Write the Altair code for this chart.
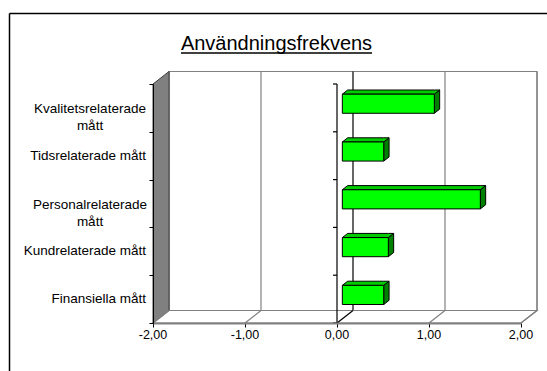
import altair as alt
import pandas as pd

# Chart content
CATEGORIES = [
    "Finansiella mått",
    "Kundrelaterade mått",
    "Personalrelaterade\nmått",
    "Tidsrelaterade mått",
    "Kvalitetsrelaterade\nmått",
]
VALUES = [0.45, 0.50, 1.50, 0.45, 1.00]
TICK_VALUES = [-2, -1, 0, 1, 2]
TICK_LABELS = ["-2,00", "-1,00", "0,00", "1,00", "2,00"]
TITLE = "Användningsfrekvens"

# Geometry of the pseudo-3D box (front plot area in pixels, depth in data units)
W, H = 368, 239
N = len(CATEGORIES)
X_MIN, X_MAX = TICK_VALUES[0], TICK_VALUES[-1]
PX_PER_X = W / (X_MAX - X_MIN)
PX_PER_Y = H / N
DX = 16 / PX_PER_X      # depth shift to the right
DY = 12.5 / PX_PER_Y    # depth shift upwards
BAR_LO, BAR_HI = 0.3, 0.7
FONT = "Liberation Sans"

xs = alt.Scale(domain=[X_MIN, X_MAX], nice=False, zero=False)
ys = alt.Scale(domain=[0, N], nice=False, zero=False)
AX_X = alt.Axis(values=TICK_VALUES, labels=False, grid=False, title=None,
                tickSize=4, tickColor="black", tickWidth=1,
                domainColor="#808080", domainWidth=2, zindex=1)
AX_Y = alt.Axis(values=list(range(N + 1)), labels=False, grid=False, title=None,
                tickSize=4, tickColor="black", tickWidth=1,
                domainColor="black", domainWidth=1, zindex=1)

# Outer chart border (top and left edges; the rest lies outside the page)
one = pd.DataFrame({"k": [0]})
frame_top = alt.Chart(one).mark_rule(color="black", strokeWidth=1.5).encode(
    x=alt.value(9.5 - 153), x2=alt.value(W + 40), y=alt.value(13.5 - 84),
)
frame_left = alt.Chart(one).mark_rule(color="black", strokeWidth=1.5).encode(
    x=alt.value(9.5 - 153), y=alt.value(13.5 - 84), y2=alt.value(H + 60),
)

# Back wall with gridlines
wall_df = pd.DataFrame({"x0": [X_MIN + DX], "x1": [X_MAX + DX], "y0": [DY], "y1": [N + DY]})
back_wall = alt.Chart(wall_df).mark_rect(fill="white", stroke="#808080", strokeWidth=1.2).encode(
    x=alt.X("x0:Q", scale=xs, axis=AX_X), x2="x1:Q",
    y=alt.Y("y0:Q", scale=ys, axis=AX_Y), y2="y1:Q",
)

grid_df = pd.DataFrame({"v": TICK_VALUES})
grid_df["gx"] = grid_df["v"] + DX
grid_df["gy0"] = DY
grid_df["gy1"] = N + DY
grid_df["fx"] = grid_df["v"]
grid_df["fy"] = 0.0
back_grid = alt.Chart(grid_df).mark_rule(strokeWidth=1.2).encode(
    x=alt.X("gx:Q", scale=xs, axis=AX_X),
    y=alt.Y("gy0:Q", scale=ys, axis=AX_Y), y2="gy1:Q",
    color=alt.condition(alt.datum.v == 0, alt.value("black"), alt.value("#808080")),
)

# Left side wall (grey) and floor
side_df = pd.DataFrame({"x": [X_MIN, X_MIN + DX], "lo": [0, DY], "hi": [N, N + DY]})
side_wall = alt.Chart(side_df).mark_area(fill="#808080", stroke="#404040", strokeWidth=1).encode(
    x=alt.X("x:Q", scale=xs, axis=AX_X),
    y=alt.Y("lo:Q", scale=ys, axis=AX_Y, stack=None), y2="hi:Q",
)

floor_df = pd.DataFrame({
    "x": [X_MIN, X_MIN + DX, X_MAX, X_MAX + DX],
    "lo": [0, 0, 0, DY],
    "hi": [0, DY, DY, DY],
})
floor = alt.Chart(floor_df).mark_area(fill="white", stroke="#808080", strokeWidth=1.2).encode(
    x=alt.X("x:Q", scale=xs, axis=AX_X),
    y=alt.Y("lo:Q", scale=ys, axis=AX_Y, stack=None), y2="hi:Q",
)

floor_lines = alt.Chart(grid_df).mark_rule(strokeWidth=1.2).encode(
    x=alt.X("fx:Q", scale=xs, axis=AX_X), x2="gx:Q",
    y=alt.Y("fy:Q", scale=ys, axis=AX_Y), y2="gy0:Q",
    color=alt.condition(alt.datum.v == 0, alt.value("black"), alt.value("#808080")),
)

# Category axis drawn at zero with its ticks
zero_df = pd.DataFrame({"b": list(range(N + 1))})
zero_df["z"] = 0.0
zero_line = alt.Chart(pd.DataFrame({"z": [0.0], "y0": [0.0], "y1": [float(N)]})).mark_rule(
    color="black", strokeWidth=1.2
).encode(
    x=alt.X("z:Q", scale=xs, axis=AX_X),
    y=alt.Y("y0:Q", scale=ys, axis=AX_Y), y2="y1:Q",
)
zero_ticks = alt.Chart(zero_df).mark_rule(color="black", strokeWidth=1.2, xOffset=-4).encode(
    x=alt.X("z:Q", scale=xs, axis=AX_X), x2="z:Q",
    y=alt.Y("b:Q", scale=ys, axis=AX_Y),
)

# Bars: front face, top face and right side face
fx, fy = DX / 3, DY / 3
ex, ey = DX / 3, DY / 3
front_rows, face_rows = [], []
for i, (cat, val) in enumerate(zip(CATEGORIES, VALUES)):
    yb, yt = i + BAR_LO + fy, i + BAR_HI + fy
    x0, x1 = fx, val + fx
    front_rows.append({"cat": cat, "x0": x0, "x1": x1, "y0": yb, "y1": yt})
    for x, lo, hi in [(x0, yt, yt), (x0 + ex, yt, yt + ey), (x1, yt, yt + ey), (x1 + ex, yt + ey, yt + ey)]:
        face_rows.append({"face": f"top{i}", "kind": "top", "x": x, "lo": lo, "hi": hi})
    for x, lo, hi in [(x1, yb, yt), (x1 + ex, yb + ey, yt + ey)]:
        face_rows.append({"face": f"side{i}", "kind": "side", "x": x, "lo": lo, "hi": hi})
front_df = pd.DataFrame(front_rows)
face_df = pd.DataFrame(face_rows)

bar_side = alt.Chart(face_df[face_df.kind == "side"]).mark_area(
    fill="#008000", stroke="black", strokeWidth=1
).encode(
    x=alt.X("x:Q", scale=xs, axis=AX_X),
    y=alt.Y("lo:Q", scale=ys, axis=AX_Y, stack=None), y2="hi:Q",
    detail="face:N",
)
bar_top = alt.Chart(face_df[face_df.kind == "top"]).mark_area(
    fill="#00CC00", stroke="black", strokeWidth=1
).encode(
    x=alt.X("x:Q", scale=xs, axis=AX_X),
    y=alt.Y("lo:Q", scale=ys, axis=AX_Y, stack=None), y2="hi:Q",
    detail="face:N",
)
bar_front = alt.Chart(front_df).mark_rect(fill="#00FF00", stroke="black", strokeWidth=1).encode(
    x=alt.X("x0:Q", scale=xs, axis=AX_X), x2="x1:Q",
    y=alt.Y("y0:Q", scale=ys, axis=AX_Y), y2="y1:Q",
)

# Category labels
lab_df = pd.DataFrame({"cat": CATEGORIES, "pos": [i + 0.5 for i in range(N)]})
one_line = lab_df[~lab_df.cat.str.contains("\n")]
two_line = lab_df[lab_df.cat.str.contains("\n")]
labels_single = alt.Chart(one_line).mark_text(
    align="right", baseline="middle", font=FONT, fontSize=13.5, color="black", dx=-7
).encode(
    x=alt.X(datum=X_MIN, scale=xs, axis=AX_X),
    y=alt.Y("pos:Q", scale=ys, axis=AX_Y),
    text="cat:N",
)
labels_double = alt.Chart(two_line).mark_text(
    align="center", baseline="middle", font=FONT, fontSize=13.5, color="black",
    dx=-63, dy=1.5, lineBreak="\n", lineHeight=17
).encode(
    x=alt.X(datum=X_MIN, scale=xs, axis=AX_X),
    y=alt.Y("pos:Q", scale=ys, axis=AX_Y),
    text="cat:N",
)

# Value axis labels
tick_df = pd.DataFrame({"v": TICK_VALUES, "lab": TICK_LABELS})
tick_labels = alt.Chart(tick_df).mark_text(
    align="center", baseline="middle", font=FONT, fontSize=12.5, color="black"
).encode(
    x=alt.X("v:Q", scale=xs, axis=AX_X),
    y=alt.value(H + 12),
    text="lab:N",
)

# Underlined title
title_df = pd.DataFrame({"t": [TITLE]})
title = alt.Chart(title_df).mark_text(
    align="center", baseline="alphabetic", font=FONT, fontSize=20, color="black"
).encode(
    x=alt.value(276.5 - 153), y=alt.value(50 - 84), text="t:N",
)
underline = alt.Chart(title_df).mark_rule(color="black", strokeWidth=1.6).encode(
    x=alt.value(181 - 153), x2=alt.value(372 - 153), y=alt.value(53 - 84),
)

chart = alt.layer(
    frame_top, frame_left, back_wall, back_grid, side_wall, floor, floor_lines,
    zero_line, zero_ticks, bar_side, bar_top, bar_front,
    labels_single, labels_double, tick_labels, title, underline,
).properties(
    width=W, height=H,
    autosize=alt.AutoSizeParams(type="none"),
    padding={"left": 153, "top": 84, "right": 547 - 153 - W, "bottom": 371 - 84 - H},
    background="white",
).configure_view(stroke=None)

chart.save("out.html", embed_options={"renderer": "svg", "actions": False})
